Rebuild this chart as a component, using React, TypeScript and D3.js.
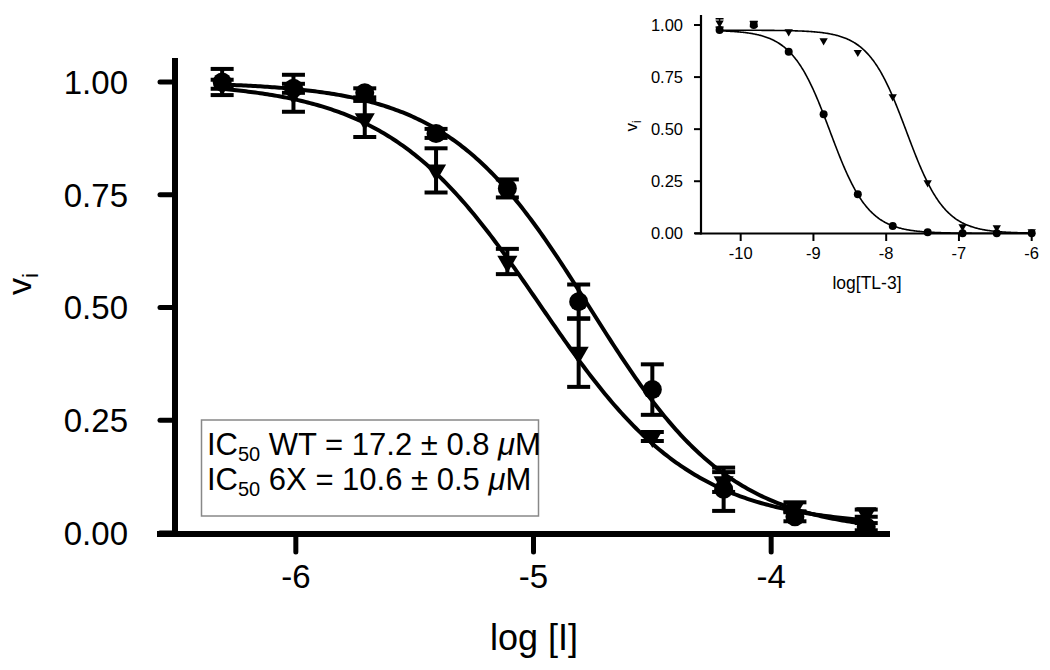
import React from "react";
import * as d3 from "d3";

// ---------- Main panel data ----------
const mainLogI = [-6.31, -6.01, -5.71, -5.41, -5.11, -4.81, -4.5, -4.2, -3.9, -3.6];
const wtVi = [1.0, 0.986, 0.976, 0.886, 0.764, 0.513, 0.318, 0.097, 0.036, 0.014];
const wtErr = [0.029, 0.01, 0.01, 0.01, 0.02, 0.038, 0.056, 0.048, 0.01, 0.008];
const x6Vi = [0.995, 0.975, 0.918, 0.804, 0.602, 0.4, 0.214, 0.113, 0.058, 0.044];
const x6Err = [0.01, 0.041, 0.04, 0.049, 0.028, 0.076, 0.01, 0.022, 0.01, 0.008];
const mainXTicks = [-6, -5, -4];
const mainYTicks = [0, 0.25, 0.5, 0.75, 1.0];
// fit parameters (4PL): top, bottom, logIC50, hill
const wtFit = { top: 1.0, bottom: 0.0, logIC50: -4.764, hill: 1.45 };
const x6Fit = { top: 1.0, bottom: 0.015, logIC50: -4.975, hill: 1.35 };

// ---------- Inset data ----------
const insetLog = [-10.29, -9.82, -9.34, -8.86, -8.39, -7.91, -7.43, -6.95, -6.48, -6.0];
const insetCircle = [0.976, 1.0, 0.872, 0.571, 0.187, 0.035, 0.005, 0.0, 0.0, 0.0];
const insetTri = [1.01, 1.005, 0.968, 0.925, 0.869, 0.656, 0.243, 0.032, 0.027, 0.008];
const insetTriErr = [0.02, 0.012, 0, 0, 0, 0, 0, 0, 0, 0];
const insetXTicks = [-10, -9, -8, -7, -6];
const insetYTicks = [0, 0.25, 0.5, 0.75, 1.0];
const insetCircleFit = { top: 0.975, bottom: 0.0, logIC50: -8.77, hill: 1.65 };
const insetTriFit = { top: 0.975, bottom: 0.0, logIC50: -7.72, hill: 1.65 };

const FONT = "'Liberation Sans', Arial, Helvetica, sans-serif";

type Fit = { top: number; bottom: number; logIC50: number; hill: number };
const fitY = (f: Fit, x: number) =>
  f.bottom + (f.top - f.bottom) / (1 + Math.pow(10, f.hill * (x - f.logIC50)));

export default function App() {
  // main scales
  const xM = d3.scaleLinear().domain([-6.5, -3.5]).range([177, 890]);
  const yM = d3.scaleLinear().domain([0, 1.05]).range([533, 59.45]);
  // inset scales
  const xI = d3.scaleLinear().domain([-10.5, -6]).range([704.3, 1031.7]);
  const yI = d3.scaleLinear().domain([0, 1.05]).range([233.3, 14.6]);

  const mainCurve = (f: Fit) => {
    const pts = d3.range(-6.31, -3.6 + 1e-9, 0.01).map((x) => [x, fitY(f, x)] as [number, number]);
    return d3.line<[number, number]>().x((d) => xM(d[0])).y((d) => yM(d[1]))(pts) || "";
  };
  const insetCurve = (f: Fit) => {
    const pts = d3.range(-10.29, -6.0 + 1e-9, 0.01).map((x) => [x, fitY(f, x)] as [number, number]);
    return d3.line<[number, number]>().x((d) => xI(d[0])).y((d) => yI(d[1]))(pts) || "";
  };

  const triMain = d3.symbol().type(d3.symbolTriangle).size(175)() || "";
  const triInset = d3.symbol().type(d3.symbolTriangle).size(30)() || "";

  const errBar = (
    x: number,
    y: number,
    e: number,
    xs: d3.ScaleLinear<number, number>,
    ys: d3.ScaleLinear<number, number>,
    capW: number,
    sw: number,
    key: string
  ) => {
    if (e <= 0) return null;
    const cx = xs(x);
    const y1 = ys(y + e);
    const y2 = ys(y - e);
    return (
      <g key={key} stroke="#000" strokeWidth={sw}>
        <line x1={cx} x2={cx} y1={y1} y2={y2} />
        <line x1={cx - capW / 2} x2={cx + capW / 2} y1={y1} y2={y1} />
        <line x1={cx - capW / 2} x2={cx + capW / 2} y1={y2} y2={y2} />
      </g>
    );
  };

  return (
    <svg
      width={1050}
      height={670}
      style={{ position: "absolute", left: 0, top: 0, background: "#fff" }}
      fontFamily={FONT}
    >
      <rect x={0} y={0} width={1050} height={670} fill="#fff" />

      {/* ================= MAIN PANEL ================= */}
      {/* fit curves */}
      <path d={mainCurve(wtFit)} fill="none" stroke="#000" strokeWidth={4} />
      <path d={mainCurve(x6Fit)} fill="none" stroke="#000" strokeWidth={4} />

      {/* error bars */}
      {mainLogI.map((x, i) => errBar(x, wtVi[i], wtErr[i], xM, yM, 23, 4, "we" + i))}
      {mainLogI.map((x, i) => errBar(x, x6Vi[i], x6Err[i], xM, yM, 23, 4, "xe" + i))}

      {/* markers */}
      {mainLogI.map((x, i) => (
        <circle key={"wc" + i} cx={xM(x)} cy={yM(wtVi[i])} r={9.5} fill="#000" />
      ))}
      {mainLogI.map((x, i) => (
        <path
          key={"xt" + i}
          d={triMain}
          transform={`translate(${xM(x)},${yM(x6Vi[i])}) rotate(180)`}
          fill="#000"
        />
      ))}

      {/* axes */}
      <line x1={175} x2={175} y1={58} y2={537} stroke="#000" strokeWidth={6} />
      <line x1={157} x2={890} y1={534} y2={534} stroke="#000" strokeWidth={6} />
      {mainYTicks.map((t) => (
        <g key={"myt" + t}>
          <line x1={160} x2={175} y1={yM(t)} y2={yM(t)} stroke="#000" strokeWidth={5} strokeLinecap="round" />
          <text x={128} y={yM(t)} dy="0.36em" textAnchor="end" fontSize={33} fill="#000">
            {t.toFixed(2)}
          </text>
        </g>
      ))}
      {mainXTicks.map((t) => (
        <g key={"mxt" + t}>
          <line x1={xM(t)} x2={xM(t)} y1={534} y2={552} stroke="#000" strokeWidth={5} strokeLinecap="round" />
          <text x={xM(t)} y={588} textAnchor="middle" fontSize={33} fill="#000">
            {t}
          </text>
        </g>
      ))}
      <text x={534} y={650} textAnchor="middle" fontSize={36} fill="#000">
        log [I]
      </text>
      <text transform="translate(31,284) rotate(-90)" textAnchor="middle" fontSize={34} fill="#000">
        v
        <tspan fontSize={22} dy={7}>
          i
        </tspan>
      </text>

      {/* IC50 box */}
      <rect x={201.5} y={420} width={337} height={96} fill="#fff" stroke="#888" strokeWidth={1.5} />
      <text x={207} y={455} fontSize={31} fill="#000">
        IC
        <tspan fontSize={20} dy={6}>
          50
        </tspan>
        <tspan dy={-6}> WT = 17.2 ± 0.8 </tspan>
        <tspan fontStyle="italic">μ</tspan>M
      </text>
      <text x={207} y={490} fontSize={31} fill="#000">
        IC
        <tspan fontSize={20} dy={6}>
          50
        </tspan>
        <tspan dy={-6}> 6X = 10.6 ± 0.5 </tspan>
        <tspan fontStyle="italic">μ</tspan>M
      </text>

      {/* ================= INSET ================= */}
      <path d={insetCurve(insetCircleFit)} fill="none" stroke="#000" strokeWidth={1.6} />
      <path d={insetCurve(insetTriFit)} fill="none" stroke="#000" strokeWidth={1.6} />
      {insetLog.map((x, i) => errBar(x, insetTri[i], insetTriErr[i], xI, yI, 8, 1.5, "ie" + i))}
      {insetLog.map((x, i) => (
        <circle key={"ic" + i} cx={xI(x)} cy={yI(insetCircle[i])} r={4} fill="#000" />
      ))}
      {insetLog.map((x, i) => (
        <path
          key={"it" + i}
          d={triInset}
          transform={`translate(${xI(x)},${yI(insetTri[i])}) rotate(180)`}
          fill="#000"
        />
      ))}

      <line x1={701} x2={701} y1={15} y2={234.5} stroke="#000" strokeWidth={2.2} />
      <line x1={695} x2={1035} y1={233.5} y2={233.5} stroke="#000" strokeWidth={2.2} />
      {insetYTicks.map((t) => (
        <g key={"iyt" + t}>
          <line x1={694} x2={701} y1={yI(t)} y2={yI(t)} stroke="#000" strokeWidth={2} />
          <text x={683} y={yI(t)} dy="0.36em" textAnchor="end" fontSize={16.5} fill="#000">
            {t.toFixed(2)}
          </text>
        </g>
      ))}
      {insetXTicks.map((t) => (
        <g key={"ixt" + t}>
          <line x1={xI(t)} x2={xI(t)} y1={233.5} y2={241} stroke="#000" strokeWidth={2} />
          <text x={xI(t)} y={259} textAnchor="middle" fontSize={16.5} fill="#000">
            {t}
          </text>
        </g>
      ))}
      <text x={867} y={289} textAnchor="middle" fontSize={17.5} fill="#000">
        log[TL-3]
      </text>
      <text transform="translate(637,126) rotate(-90)" textAnchor="middle" fontSize={17} fill="#000">
        v
        <tspan fontSize={12} dy={4}>
          i
        </tspan>
      </text>
    </svg>
  );
}
